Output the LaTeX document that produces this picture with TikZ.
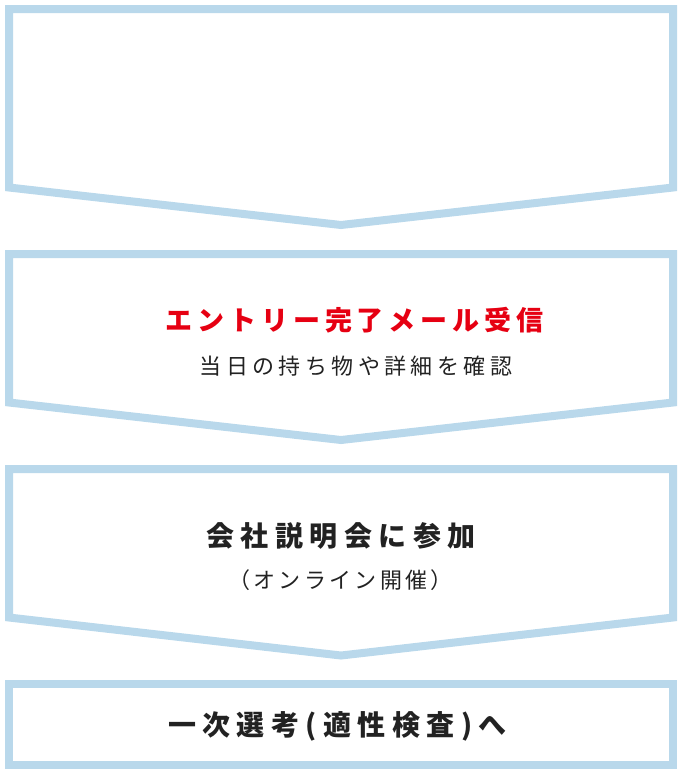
\documentclass[tikz,border=0pt]{standalone}
\usepackage{fontspec}
\usepackage{tikz}
\newfontfamily\jphead[LetterSpace=23]{Noto Sans CJK JP}
\newfontfamily\jpred[LetterSpace=18]{Noto Sans CJK JP}
\newfontfamily\jpsub[LetterSpace=20]{Noto Sans CJK JP}
\newfontfamily\jpnote[LetterSpace=15]{Noto Sans CJK JP}
\definecolor{flowblue}{RGB}{185,216,235}
\definecolor{flowred}{RGB}{230,0,18}
\definecolor{flowink}{RGB}{34,34,34}
\def\flowchevron(#1:#2:#3){\draw[flowline] (9,#1) -- (673,#1) -- (673,#2) -- (341,#3) -- (9,#2) -- cycle;}

\begin{document}
\begin{tikzpicture}[x=1pt,y=-1pt,
		flowline/.style={line width=8pt, draw=flowblue, line join=miter},
		headtext/.style={inner sep=0pt, text=flowink, font=\jphead\bfseries\fontsize{28}{33}\selectfont},
		redtext/.style={inner sep=0pt, text=flowred, font=\jpred\bfseries\fontsize{27}{32}\selectfont},
		subtext/.style={inner sep=0pt, text=flowink, font=\jpsub\fontsize{22}{26}\selectfont},
		notetext/.style={inner sep=0pt, text=flowink, font=\jpnote\fontsize{22}{26}\selectfont}]
			%%%%% START %%%%%
			\useasboundingbox (0,0) rectangle (682,774);
			
			\flowchevron(9:187.5:225);
			\flowchevron(254:402.5:440);
			\flowchevron(469:617.5:655.5);
			\draw[flowline] (9,684) rectangle (673,765);
			
			\node[redtext] (entry) at (354.5,320.5) {エントリー完了メール受信};
			\node[subtext] (entrysub) at (356,366) {当日の持ち物や詳細を確認};
			
			\node[headtext] (briefing) at (341,535.5) {会社説明会に参加};
			\node[notetext] (briefingsub) at (340.5,580.5) {（オンライン開催）};
			
			\node[headtext] (screening) at (337.5,726) {一次選考(適性検査)へ};
			%%%%% END %%%%%
\end{tikzpicture}
\end{document}
